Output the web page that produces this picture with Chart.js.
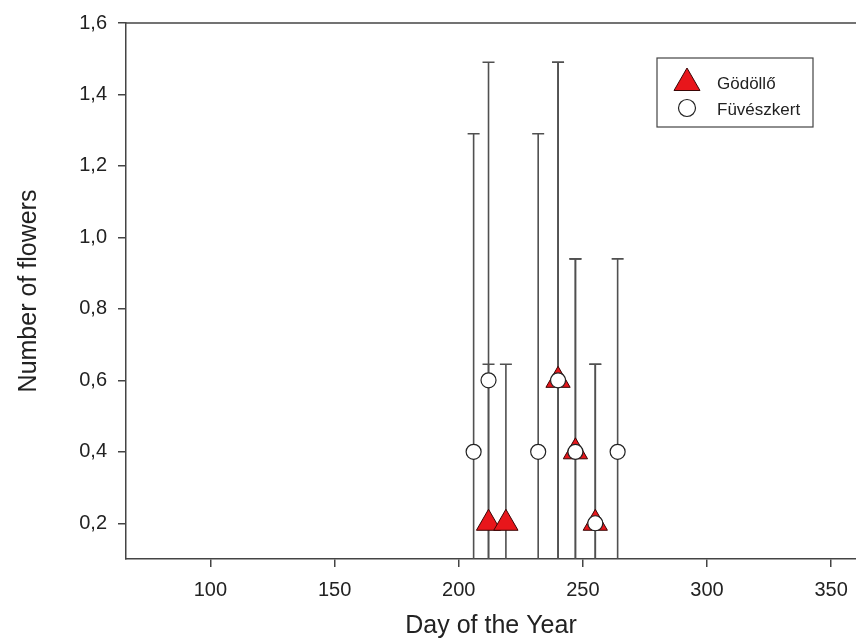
<!DOCTYPE html>
<html>
<head>
<meta charset="utf-8">
<script src="https://cdn.jsdelivr.net/npm/chart.js@4.4.1/dist/chart.umd.min.js"></script>
<style>
  html, body { margin: 0; padding: 0; background: #fff; }
  #wrap { width: 856px; height: 639px; }
</style>
</head>
<body>
<div id="wrap"><canvas id="myChart" width="856" height="639"></canvas></div>
<script>
// Gödöllő (triangles)
var gDays = [212, 219, 240, 247, 255];
var gMean = [0.2, 0.2, 0.6, 0.4, 0.2];
var gErr  = [0.445, 0.445, 0.89, 0.54, 0.445];

// Füvészkert (circles)
var fDays = [206, 212, 232, 240, 247, 255, 264];
var fMean = [0.4, 0.6, 0.4, 0.6, 0.4, 0.2, 0.4];
var fErr  = [0.89, 0.89, 0.89, 0.89, 0.54, 0.445, 0.54];

var xTicks = [100, 150, 200, 250, 300, 350];
var yTicks = [0.2, 0.4, 0.6, 0.8, 1.0, 1.2, 1.4, 1.6];

var seriesNames = ['Gödöllő', 'Füvészkert'];

function toPoints(days, mean, err) {
    var pts = [];
    for (var i = 0; i < days.length; i++) {
        pts.push({x: days[i], y: mean[i], err: err[i]});
    }
    return pts;
}

var FONT = '"Liberation Sans", Arial, sans-serif';

// error bars, drawn under the markers
var errorBars = {
    id: 'errorBars',
    beforeDatasetsDraw: function(chart) {
        var ctx = chart.ctx, a = chart.chartArea;
        var xs = chart.scales.x, ys = chart.scales.y;
        ctx.save();
        ctx.beginPath();
        ctx.rect(a.left, a.top, a.right - a.left, a.bottom - a.top);
        ctx.clip();
        ctx.strokeStyle = '#505050';
        ctx.lineWidth = 1.6;
        chart.data.datasets.forEach(function(ds) {
            ds.data.forEach(function(p) {
                var x = xs.getPixelForValue(p.x);
                var top = ys.getPixelForValue(p.y + p.err);
                var bot = ys.getPixelForValue(p.y - p.err);
                ctx.beginPath();
                ctx.moveTo(x, top); ctx.lineTo(x, bot);
                ctx.moveTo(x - 6, top); ctx.lineTo(x + 6, top);
                ctx.moveTo(x - 6, bot); ctx.lineTo(x + 6, bot);
                ctx.stroke();
            });
        });
        ctx.restore();
    },
    afterDraw: function(chart) {
        var ctx = chart.ctx, a = chart.chartArea;
        // top frame line
        ctx.save();
        ctx.strokeStyle = '#444';
        ctx.lineWidth = 1.5;
        ctx.beginPath();
        ctx.moveTo(a.left, a.top);
        ctx.lineTo(a.right, a.top);
        ctx.stroke();

        // legend box
        var bx = 657, by = 58, bw = 156, bh = 69;
        ctx.strokeStyle = '#444';
        ctx.lineWidth = 1.2;
        ctx.strokeRect(bx, by, bw, bh);
        var ds = chart.data.datasets;
        var rows = [by + 24, by + 50];
        for (var i = 0; i < 2; i++) {
            var d = ds[i];
            ctx.fillStyle = d.backgroundColor;
            ctx.strokeStyle = d.borderColor;
            ctx.lineWidth = d.borderWidth;
            Chart.helpers.drawPoint(ctx, {pointStyle: d.pointStyle, radius: i === 0 ? 15 : 8.5, rotation: 0, borderWidth: d.borderWidth}, bx + 30, rows[i] + (i === 0 ? 1 : 0));
            ctx.fillStyle = '#222';
            ctx.font = '17px ' + FONT;
            ctx.textBaseline = 'middle';
            ctx.textAlign = 'left';
            ctx.fillText(seriesNames[i], bx + 60, rows[i] + 2);
        }
        ctx.restore();
    }
};

var ctx = document.getElementById('myChart').getContext('2d');
var chart = new Chart(ctx, {
    type: 'scatter',
    data: {
        datasets: [{
            label: seriesNames[0],
            data: toPoints(gDays, gMean, gErr),
            pointStyle: 'triangle',
            pointRadius: 14,
            pointHoverRadius: 14,
            backgroundColor: '#e8161b',
            borderColor: '#3a0505',
            borderWidth: 1,
            order: 2
        }, {
            label: seriesNames[1],
            data: toPoints(fDays, fMean, fErr),
            pointStyle: 'circle',
            pointRadius: 7.5,
            pointHoverRadius: 7.5,
            backgroundColor: '#ffffff',
            borderColor: '#222222',
            borderWidth: 1.2,
            order: 1
        }]
    },
    options: {
        responsive: false,
        animation: false,
        layout: { autoPadding: false, padding: { top: 23, right: 0, left: 0, bottom: 0 } },
        plugins: {
            legend: { display: false },
            tooltip: { enabled: false }
        },
        scales: {
            x: {
                type: 'linear',
                min: 66,
                max: 360,
                afterBuildTicks: function(scale) {
                    scale.ticks = xTicks.map(function(v){ return {value: v}; });
                },
                afterFit: function(scale) {
                    scale.height = 80;
                    scale.paddingLeft = 0;
                    scale.paddingRight = 0;
                },
                grid: { drawOnChartArea: false, tickLength: 8, color: '#444', lineWidth: 1.5 },
                border: { display: true, color: '#444', width: 1.5 },
                ticks: {
                    padding: 11,
                    color: '#222',
                    maxRotation: 0,
                    font: { family: FONT, size: 20 }
                },
                title: {
                    display: true,
                    text: 'Day of the Year',
                    color: '#222',
                    padding: { top: 0, bottom: 0 },
                    font: { family: FONT, size: 25, lineHeight: 1 }
                }
            },
            y: {
                type: 'linear',
                min: 0.1,
                max: 1.6,
                afterBuildTicks: function(scale) {
                    scale.ticks = yTicks.map(function(v){ return {value: v}; });
                },
                afterFit: function(scale) {
                    scale.width = 126;
                    scale.paddingTop = 0;
                    scale.paddingBottom = 0;
                },
                grid: { drawOnChartArea: false, tickLength: 8, color: '#444', lineWidth: 1.5 },
                border: { display: true, color: '#444', width: 1.5 },
                ticks: {
                    padding: 11,
                    color: '#222',
                    font: { family: FONT, size: 20 },
                    callback: function(v) { return v.toFixed(1).replace('.', ','); }
                },
                title: {
                    display: true,
                    text: 'Number of flowers',
                    color: '#222',
                    padding: { top: 17, bottom: 0 },
                    font: { family: FONT, size: 25, lineHeight: 1 }
                }
            }
        }
    },
    plugins: [errorBars]
});
</script>
</body>
</html>
